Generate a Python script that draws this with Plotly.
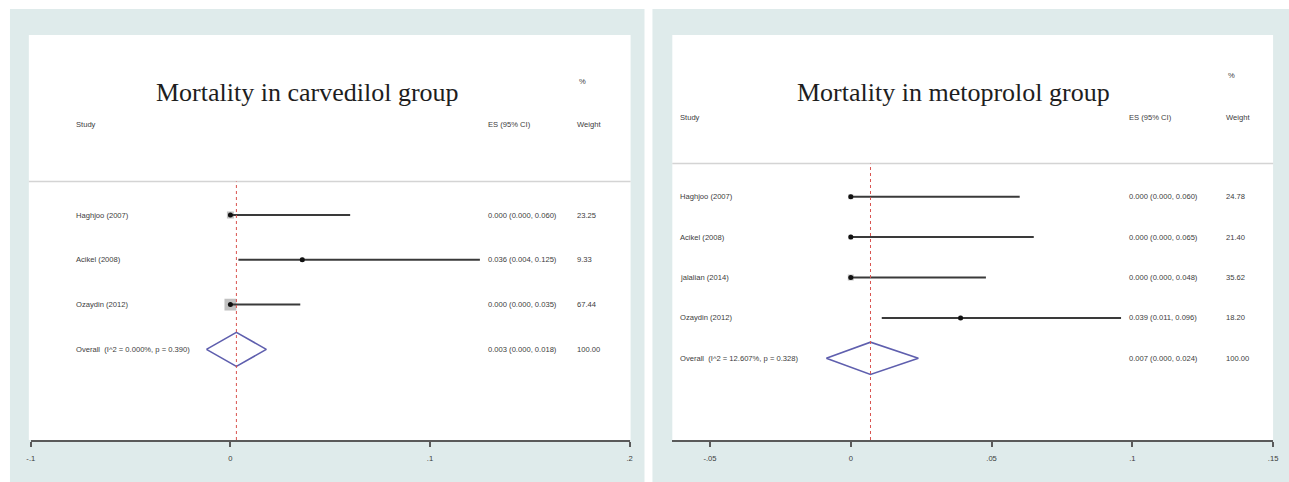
import plotly.graph_objects as go

# ---------------- data ----------------
carv_titles = "Mortality in carvedilol group"
carv_studies = ["Haghjoo (2007)", "Acikel (2008)", "Ozaydin (2012)"]
carv_es = [0.000, 0.036, 0.000]
carv_lo = [0.000, 0.004, 0.000]
carv_hi = [0.060, 0.125, 0.035]
carv_weight = [23.25, 9.33, 67.44]
carv_overall_label = "Overall  (I^2 = 0.000%, p = 0.390)"
carv_overall = [0.003, 0.000, 0.018]          # es, lo, hi (text)
carv_overall_weight = 100.00
carv_diamond = [-0.012, 0.003, 0.018]         # drawn diamond lo, centre, hi
carv_ticks = [-0.1, 0.0, 0.1, 0.2]
carv_ticktext = ["-.1", "0", ".1", ".2"]

meto_title = "Mortality in metoprolol group"
meto_studies = ["Haghjoo (2007)", "Acikel (2008)", "jalalian (2014)", "Ozaydin (2012)"]
meto_es = [0.000, 0.000, 0.000, 0.039]
meto_lo = [0.000, 0.000, 0.000, 0.011]
meto_hi = [0.060, 0.065, 0.048, 0.096]
meto_weight = [24.78, 21.40, 35.62, 18.20]
meto_overall_label = "Overall  (I^2 = 12.607%, p = 0.328)"
meto_overall = [0.007, 0.000, 0.024]
meto_overall_weight = 100.00
meto_diamond = [-0.0087, 0.007, 0.024]
meto_ticks = [-0.05, 0.0, 0.05, 0.1, 0.15]
meto_ticktext = ["-.05", "0", ".05", ".1", ".15"]

# ---------------- layout constants ----------------
W, H = 1289, 482
BG = "#dfebeb"
SMALL = dict(family="Liberation Sans, Arial", size=7.6, color="#3c3c3c")
TITLE = dict(family="Liberation Serif, Times New Roman", size=26, color="#1e1e1e")


def px(x):
    return x / W


def py(y):
    return 1 - y / H


panels = [
    dict(title=carv_titles, studies=carv_studies, es=carv_es, lo=carv_lo, hi=carv_hi,
         w=carv_weight, ov_label=carv_overall_label, ov=carv_overall, ov_w=carv_overall_weight,
         dia=carv_diamond, ticks=carv_ticks, ticktext=carv_ticktext,
         outer=(6, 645), white=(25, 631), sep=181.5, row0=215.0, rowstep=44.8,
         xrange=(-0.1, 0.2), xdom=(27, 630), box_k=1.45, dia_h=0.38,
         title_xy=(306, 92), study_xy=(70, 125), es_x=485, wt_x=575, pct_xy=(577, 81),
         label_x=70),
    dict(title=meto_title, studies=meto_studies, es=meto_es, lo=meto_lo, hi=meto_hi,
         w=meto_weight, ov_label=meto_overall_label, ov=meto_overall, ov_w=meto_overall_weight,
         dia=meto_diamond, ticks=meto_ticks, ticktext=meto_ticktext,
         outer=(653, 1289), white=(673, 1278), sep=163.5, row0=196.7, rowstep=40.4,
         xrange=(-0.0634, 0.15), xdom=(673, 1278), box_k=1.0, dia_h=0.40,
         title_xy=(956, 92), study_xy=(679, 117), es_x=1131, wt_x=1229, pct_xy=(1231, 75),
         label_x=679),
]

fig = go.Figure()
shapes = []
annotations = []
AXIS_Y = 440

for k, p in enumerate(panels):
    xa = "x" if k == 0 else "x2"
    ya = "y" if k == 0 else "y2"
    xname = "xaxis" if k == 0 else "xaxis2"
    yname = "yaxis" if k == 0 else "yaxis2"

    # backgrounds
    shapes.append(dict(type="rect", xref="paper", yref="paper", layer="below",
                       x0=px(p["outer"][0]), x1=px(p["outer"][1]) + 0.01 * (k == 1), y0=-0.01, y1=py(9),
                       fillcolor=BG, line=dict(width=0)))
    shapes.append(dict(type="rect", xref="paper", yref="paper", layer="below",
                       x0=px(p["white"][0]), x1=px(p["white"][1]), y0=py(AXIS_Y), y1=py(35),
                       fillcolor="white", line=dict(width=0)))
    shapes.append(dict(type="line", xref="paper", yref="paper", layer="below",
                       x0=px(p["white"][0]), x1=px(p["white"][1]), y0=py(p["sep"]), y1=py(p["sep"]),
                       line=dict(color="#d4d4d4", width=1.5)))

    n = len(p["studies"])
    rows = list(range(1, n + 1))
    ov_row = n + 1
    top_val = 1 - (p["row0"] - p["sep"]) / p["rowstep"]
    bot_val = 1 + (AXIS_Y - p["row0"]) / p["rowstep"]

    # weighted boxes
    fig.add_trace(go.Scatter(
        x=p["es"], y=rows, mode="markers", xaxis=xa, yaxis=ya, showlegend=False,
        marker=dict(symbol="square", size=[p["box_k"] * (wt ** 0.5) for wt in p["w"]],
                    color="#a6a6a6", line=dict(width=0)),
        hoverinfo="skip"))
    # CI lines
    cx, cy = [], []
    for r, lo, hi in zip(rows, p["lo"], p["hi"]):
        cx += [lo, hi, None]
        cy += [r, r, None]
    fig.add_trace(go.Scatter(x=cx, y=cy, mode="lines", xaxis=xa, yaxis=ya, showlegend=False,
                             line=dict(color="#3a3a3a", width=2), hoverinfo="skip"))
    # point estimates
    fig.add_trace(go.Scatter(x=p["es"], y=rows, mode="markers", xaxis=xa, yaxis=ya,
                             showlegend=False, marker=dict(symbol="circle", size=5, color="#111111"),
                             hoverinfo="skip"))
    # diamond
    dlo, dc, dhi = p["dia"]
    h = p["dia_h"]
    fig.add_trace(go.Scatter(x=[dlo, dc, dhi, dc, dlo], y=[ov_row, ov_row - h, ov_row, ov_row + h, ov_row],
                             mode="lines", xaxis=xa, yaxis=ya, showlegend=False,
                             line=dict(color="#5f5fae", width=1.6), hoverinfo="skip"))
    # red dashed line at overall estimate
    shapes.append(dict(type="line", xref=xa, yref=f"{ya} domain", x0=p["ov"][0], x1=p["ov"][0],
                       y0=0, y1=1, line=dict(color="#d9534f", width=1, dash="dot")))

    # text columns
    for r, name, es, lo, hi, wt in zip(rows, p["studies"], p["es"], p["lo"], p["hi"], p["w"]):
        annotations.append(dict(xref="paper", yref=ya, x=px(p["label_x"]), y=r, text=name,
                                showarrow=False, xanchor="left", yanchor="middle", font=SMALL))
        annotations.append(dict(xref="paper", yref=ya, x=px(p["es_x"]), y=r,
                                text=f"{es:.3f} ({lo:.3f}, {hi:.3f})",
                                showarrow=False, xanchor="left", yanchor="middle", font=SMALL))
        annotations.append(dict(xref="paper", yref=ya, x=px(p["wt_x"]), y=r, text=f"{wt:.2f}",
                                showarrow=False, xanchor="left", yanchor="middle", font=SMALL))
    oes, olo, ohi = p["ov"]
    annotations.append(dict(xref="paper", yref=ya, x=px(p["label_x"]), y=ov_row, text=p["ov_label"],
                            showarrow=False, xanchor="left", yanchor="middle", font=SMALL))
    annotations.append(dict(xref="paper", yref=ya, x=px(p["es_x"]), y=ov_row,
                            text=f"{oes:.3f} ({olo:.3f}, {ohi:.3f})",
                            showarrow=False, xanchor="left", yanchor="middle", font=SMALL))
    annotations.append(dict(xref="paper", yref=ya, x=px(p["wt_x"]), y=ov_row, text=f"{p['ov_w']:.2f}",
                            showarrow=False, xanchor="left", yanchor="middle", font=SMALL))

    # headers
    annotations.append(dict(xref="paper", yref="paper", x=px(p["title_xy"][0]), y=py(p["title_xy"][1]),
                            text=p["title"], showarrow=False, xanchor="center", yanchor="middle", font=TITLE))
    annotations.append(dict(xref="paper", yref="paper", x=px(p["study_xy"][0]), y=py(p["study_xy"][1]),
                            text="Study", showarrow=False, xanchor="left", yanchor="middle", font=SMALL))
    annotations.append(dict(xref="paper", yref="paper", x=px(p["es_x"]), y=py(p["study_xy"][1]),
                            text="ES (95% CI)", showarrow=False, xanchor="left", yanchor="middle", font=SMALL))
    annotations.append(dict(xref="paper", yref="paper", x=px(p["wt_x"]), y=py(p["study_xy"][1]),
                            text="Weight", showarrow=False, xanchor="left", yanchor="middle", font=SMALL))
    annotations.append(dict(xref="paper", yref="paper", x=px(p["pct_xy"][0]), y=py(p["pct_xy"][1]),
                            text="%", showarrow=False, xanchor="left", yanchor="middle", font=SMALL))

    fig.update_layout(**{
        xname: dict(domain=[px(p["xdom"][0]), px(p["xdom"][1])], range=list(p["xrange"]),
                    anchor=ya, showgrid=False, zeroline=False, showline=True,
                    linecolor="#5a5a5a", linewidth=2, ticks="outside", ticklen=5, tickwidth=1.5,
                    tickcolor="#5a5a5a", tickvals=p["ticks"], ticktext=p["ticktext"],
                    tickfont=dict(family="Liberation Sans, Arial", size=7.6, color="#3c3c3c"),
                    ticklabelstandoff=5, fixedrange=True),
        yname: dict(domain=[py(AXIS_Y), py(p["sep"])], range=[bot_val, top_val], anchor=xa,
                    visible=False, fixedrange=True),
    })

fig.update_layout(autosize=True, margin=dict(l=0, r=0, t=0, b=0, pad=0),
                  paper_bgcolor="white", plot_bgcolor="rgba(0,0,0,0)",
                  shapes=shapes, annotations=annotations, showlegend=False)

fig.write_html(
    "out.html",
    config={"displayModeBar": False, "responsive": True},
    default_width="100vw",
    default_height="100vh",
    post_script=(
        "document.documentElement.style.margin='0';"
        "document.body.style.margin='0';"
        "document.body.style.overflow='hidden';"
        "Plotly.Plots.resize(document.getElementById('{plot_id}'));"
    ),
)
